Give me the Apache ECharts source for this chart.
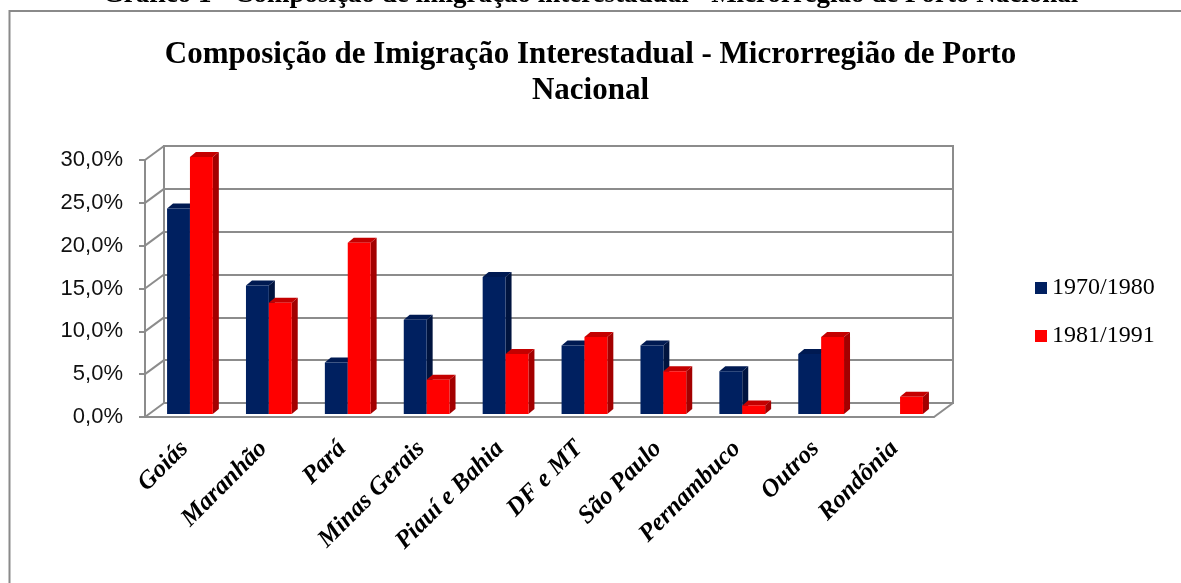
<!DOCTYPE html>
<html>
<head>
<meta charset="utf-8">
<script src="https://cdn.jsdelivr.net/npm/echarts@6/dist/echarts.min.js"></script>
<style>
  html, body { margin: 0; padding: 0; background: #fff; }
  #main { width: 1181px; height: 583px; }
</style>
</head>
<body>
<div id="main"></div>
<script>
// dados (percentual)
const categorias = ['Goiás', 'Maranhão', 'Pará', 'Minas Gerais', 'Piauí e Bahia',
    'DF e MT', 'São Paulo', 'Pernambuco', 'Outros', 'Rondônia'];
const periodo_70 = [24, 15, 6, 11, 16, 8, 8, 5, 7, null];
const periodo_81 = [30, 13, 20, 4, 7, 9, 5, 1, 9, 2];
const ticks_y = [0, 5, 10, 15, 20, 25, 30];
const nomes = ['1970/1980', '1981/1991'];

const GRID_COLOR = '#8c8c8c';
// deslocamento da parede do fundo (perspectiva)
const DX = 19, DY = -14;
// profundidade das barras
const BX = 5.5, BY = -3, SX = 6, SY = -5;

const cores = [
    {front: '#002060', side: '#00143f', top: '#001a52'},
    {front: '#ff0000', side: '#a30000', top: '#c40000'}
];

function bar3d(s) {
    return function (params, api) {
        let v = api.value(1);
        if (v == null || isNaN(v)) return;
        let idx = api.value(0);
        let top = api.coord([idx, v]);
        let base = api.coord([idx, 0]);
        let bw = api.size([1, 0])[0] * 0.29;
        let x0 = top[0] + BX + (s - 1) * bw;
        let x1 = x0 + bw;
        let yt = top[1] + BY;
        let yb = base[1] + BY;
        let c = cores[s];
        return {
            type: 'group',
            children: [
                {type: 'polygon', shape: {points: [[x1, yt], [x1 + SX, yt + SY], [x1 + SX, yb + SY], [x1, yb]]},
                    style: {fill: c.side}},
                {type: 'polygon', shape: {points: [[x0, yt], [x0 + SX, yt + SY], [x1 + SX, yt + SY], [x1, yt]]},
                    style: {fill: c.top}},
                {type: 'rect', shape: {x: x0, y: yt, width: bw, height: yb - yt},
                    style: {fill: c.front}}
            ]
        };
    };
}

function side_wall(params, api) {
    let cs = params.coordSys;
    let p = api.coord([0, api.value(1)]);
    let lines = [{
        type: 'line',
        shape: {x1: cs.x, y1: p[1], x2: cs.x + DX, y2: p[1] + DY},
        style: {stroke: GRID_COLOR, lineWidth: 2}
    }];
    if (api.value(1) === 0) {
        lines.push({
            type: 'line',
            shape: {x1: cs.x + cs.width, y1: p[1], x2: cs.x + cs.width + DX, y2: p[1] + DY},
            style: {stroke: GRID_COLOR, lineWidth: 2}
        });
    }
    return {type: 'group', children: lines};
}

let chart = echarts.init(document.getElementById('main'));

let option = {
    animation: false,
    backgroundColor: '#fff',
    title: {
        text: 'Composição de Imigração Interestadual - Microrregião de Porto\nNacional',
        left: 'center',
        top: 32,
        textStyle: {
            fontFamily: 'Liberation Serif',
            fontWeight: 'bold',
            fontSize: 31,
            lineHeight: 36,
            color: '#000'
        }
    },
    graphic: [
        {type: 'rect', shape: {x: 9.5, y: 11, width: 1200, height: 600},
            style: {fill: '#fff', stroke: '#8a8a8a', lineWidth: 2}, z: -10},
        {type: 'text', left: 'center', top: -18,
            style: {text: 'Gráfico 1 - Composição de imigração interestadual - Microrregião de Porto Nacional',
                font: 'bold 27px "Liberation Serif"', fill: '#000'}}
    ],
    legend: {
        orient: 'vertical',
        left: 1030,
        top: 271,
        itemWidth: 12,
        itemHeight: 12,
        itemGap: 24,
        icon: 'rect',
        data: nomes,
        textStyle: {fontFamily: 'Liberation Serif', fontSize: 24, color: '#000'}
    },
    grid: [
        {left: 145, right: 247, top: 160, height: 257},
        {left: 145 + DX, right: 247 - DX, top: 160 + DY, height: 257,
            show: true, borderColor: GRID_COLOR, borderWidth: 2, backgroundColor: 'transparent'}
    ],
    xAxis: [
        {
            type: 'category',
            gridIndex: 0,
            data: categorias,
            axisLine: {lineStyle: {color: GRID_COLOR, width: 2}},
            axisTick: {length: 8, lineStyle: {color: GRID_COLOR, width: 2}},
            axisLabel: {
                rotate: 45,
                margin: 28,
                interval: 0,
                fontFamily: 'Liberation Serif',
                fontStyle: 'italic',
                fontWeight: 'bold',
                fontSize: 25,
                color: '#000'
            }
        },
        {type: 'category', gridIndex: 1, data: categorias, show: false}
    ],
    yAxis: [
        {
            type: 'value',
            gridIndex: 0,
            min: 0,
            max: 30,
            interval: 5,
            axisLine: {show: true, lineStyle: {color: GRID_COLOR, width: 2}},
            axisTick: {show: true, length: 6, lineStyle: {color: GRID_COLOR, width: 2}},
            splitLine: {show: false},
            axisLabel: {
                margin: 22,
                fontFamily: 'Liberation Sans',
                fontSize: 22,
                color: '#111',
                formatter: v => v.toFixed(1).replace('.', ',') + '%'
            }
        },
        {
            type: 'value',
            gridIndex: 1,
            min: 0,
            max: 30,
            interval: 5,
            axisLine: {show: false},
            axisTick: {show: false},
            axisLabel: {show: false},
            splitLine: {lineStyle: {color: GRID_COLOR, width: 2}}
        }
    ],
    series: [
        {
            type: 'custom',
            name: 'parede',
            xAxisIndex: 0, yAxisIndex: 0,
            renderItem: side_wall,
            data: ticks_y.map(v => [0, v]),
            silent: true
        },
        {
            type: 'custom',
            name: nomes[0],
            xAxisIndex: 0, yAxisIndex: 0,
            itemStyle: {color: cores[0].front},
            renderItem: bar3d(0),
            data: periodo_70.map((v, i) => [i, v])
        },
        {
            type: 'custom',
            name: nomes[1],
            xAxisIndex: 0, yAxisIndex: 0,
            itemStyle: {color: cores[1].front},
            renderItem: bar3d(1),
            data: periodo_81.map((v, i) => [i, v])
        }
    ]
};

chart.setOption(option);
</script>
</body>
</html>
